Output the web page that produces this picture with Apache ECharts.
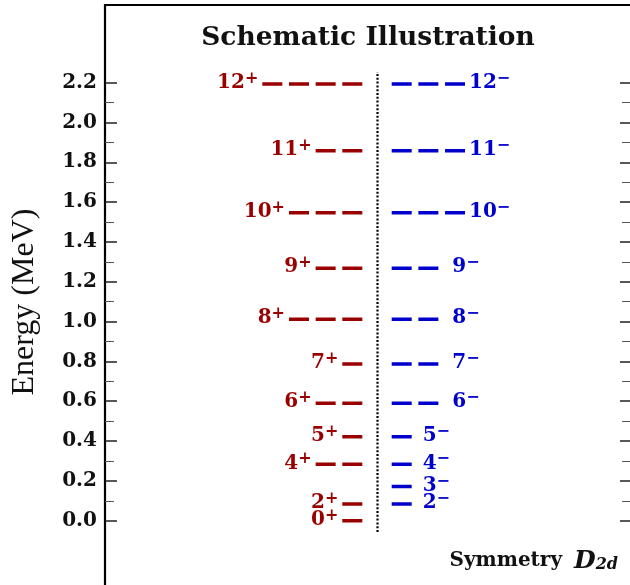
<!DOCTYPE html>
<html>
<head>
<meta charset="utf-8">
<script src="https://cdn.jsdelivr.net/npm/echarts@6/dist/echarts.min.js"></script>
<style>
html,body{margin:0;padding:0;background:#fff;overflow:hidden;width:630px;height:585px;}
#chart{width:634px;height:601px;}
</style>
</head>
<body>
<div id="chart"></div>
<script>
// ---- data ----
const spinsPlus   = [0, 2, 4, 5, 6, 7, 8, 9, 10, 11, 12];
const energyPlus  = [0.000, 0.084, 0.283, 0.422, 0.590, 0.787, 1.012, 1.268, 1.547, 1.858, 2.193];
const dashesPlus  = [1, 1, 2, 1, 2, 1, 3, 2, 3, 2, 4];      // level-line length (dash units)
const spinsMinus  = [2, 3, 4, 5, 6, 7, 8, 9, 10, 11, 12];
const energyMinus = [0.084, 0.171, 0.283, 0.422, 0.590, 0.787, 1.012, 1.268, 1.547, 1.858, 2.193];
const dashesMinus = [1, 1, 1, 1, 2, 2, 2, 2, 3, 3, 3];
const majorTicks  = [0.0, 0.2, 0.4, 0.6, 0.8, 1.0, 1.2, 1.4, 1.6, 1.8, 2.0, 2.2];
const minorTicks  = [0.1, 0.3, 0.5, 0.7, 0.9, 1.1, 1.3, 1.5, 1.7, 1.9, 2.1];
const separatorRange = [-0.057, 2.254];
const titleText = 'Schematic Illustration';
const yTitle = 'Energy (MeV)';

// ---- layout / style ----
const plusColor = '#990000';
const minusColor = '#0000cc';
const plusEnd = -0.57;     // x (dash units) where positive-parity lines end
const minusStart = 0.532;  // x where negative-parity lines start
const dashLen = 0.75;      // fraction of a dash period that is drawn
const minusLabelGap = {1: 11, 2: 14, 3: 4};
const serifBold = {fontFamily: 'DejaVu Serif', fontWeight: 'bold'};

const levelRich = (color) => ({
  n: {fontFamily: 'DejaVu Serif', fontWeight: 'bold', fontSize: 20, color: color, lineHeight: 24, opacity: 1},
  s: {fontFamily: 'DejaVu Serif', fontWeight: 'bold', fontSize: 16, color: color, lineHeight: 12, verticalAlign: 'top', opacity: 1}
});

const series = [];
const lineStyleFor = (color) => ({color: color, width: 3.5, type: [20, 6.667], cap: 'butt', opacity: 1});

spinsPlus.forEach((s, i) => {
  const x0 = plusEnd - dashesPlus[i] + (1 - dashLen);
  series.push({
    type: 'line', data: [[x0, energyPlus[i]], [plusEnd, energyPlus[i]]],
    symbol: 'none', silent: true, lineStyle: lineStyleFor(plusColor), z: 3
  });
});
spinsMinus.forEach((s, i) => {
  const x1 = minusStart + dashesMinus[i] - (1 - dashLen);
  series.push({
    type: 'line', data: [[minusStart, energyMinus[i]], [x1, energyMinus[i]]],
    symbol: 'none', silent: true, lineStyle: lineStyleFor(minusColor), z: 3
  });
});

// separator
series.push({
  type: 'line', data: [[0, separatorRange[0]], [0, separatorRange[1]]],
  symbol: 'none', silent: true,
  lineStyle: {color: '#000', width: 2.2, type: [2, 1.8]}, z: 2
});

// labels
series.push({
  type: 'scatter', symbolSize: 0, silent: true, z: 4,
  itemStyle: {color: plusColor, opacity: 1},
  data: spinsPlus.map((s, i) => ({
    value: [plusEnd - dashesPlus[i] + (1 - dashLen), energyPlus[i], s]
  })),
  label: {
    show: true, position: 'left', distance: 4, offset: [0, -1],
    color: plusColor, fontFamily: 'DejaVu Serif', fontWeight: 'bold', opacity: 1,
    formatter: (p) => '{n|' + p.value[2] + '}{s|+}',
    rich: levelRich(plusColor)
  }
});
series.push({
  type: 'scatter', symbolSize: 0, silent: true, z: 4,
  itemStyle: {color: minusColor, opacity: 1},
  data: spinsMinus.map((s, i) => ({
    value: [minusStart + dashesMinus[i] - (1 - dashLen), energyMinus[i], s],
    label: {distance: minusLabelGap[dashesMinus[i]]}
  })),
  label: {
    show: true, position: 'right', offset: [0, -1],
    color: minusColor, fontFamily: 'DejaVu Serif', fontWeight: 'bold', opacity: 1,
    formatter: (p) => '{n|' + p.value[2] + '}{s|\u2212}',
    rich: levelRich(minusColor)
  }
});

const yBase = {
  type: 'value', min: -0.4, max: 2.59,
  axisLine: {show: false, onZero: false},
  splitLine: {show: false}
};

const option = {
  animation: false,
  backgroundColor: '#fff',
  grid: {left: 105, right: 2, top: 5, height: 595.3, show: true,
         borderColor: '#000', borderWidth: 2.2, backgroundColor: 'transparent'},
  title: {
    text: titleText, left: 363, top: 20, textAlign: 'center',
    textStyle: Object.assign({fontSize: 26.5, color: '#111'}, serifBold)
  },
  xAxis: {type: 'value', min: -10.22, max: 9.544, show: false, axisLine: {onZero: false}},
  yAxis: [
    Object.assign({}, yBase, {
      position: 'left',
      axisTick: {show: true, inside: true, length: 12, customValues: majorTicks,
                 lineStyle: {color: '#222', width: 1.5}},
      axisLabel: {show: true, customValues: majorTicks, margin: 8,
                  formatter: (v) => v.toFixed(1),
                  fontFamily: 'DejaVu Serif', fontWeight: 'bold', fontSize: 20, color: '#111'}
    }),
    Object.assign({}, yBase, {
      position: 'right',
      axisTick: {show: true, inside: true, length: 12, customValues: majorTicks,
                 lineStyle: {color: '#222', width: 1.5}},
      axisLabel: {show: false}
    }),
    Object.assign({}, yBase, {
      position: 'left',
      axisTick: {show: true, inside: true, length: 9, customValues: minorTicks,
                 lineStyle: {color: '#555', width: 1}},
      axisLabel: {show: false}
    }),
    Object.assign({}, yBase, {
      position: 'right',
      axisTick: {show: true, inside: true, length: 10, customValues: minorTicks,
                 lineStyle: {color: '#555', width: 1}},
      axisLabel: {show: false}
    })
  ],
  graphic: [
    {
      type: 'text', x: 25, y: 302, rotation: Math.PI / 2, silent: true,
      style: {text: yTitle, fontFamily: 'Liberation Serif', fontSize: 32, fill: '#111',
              align: 'center', verticalAlign: 'middle'}
    },
    {
      type: 'text', x: 618, y: 561, silent: true,
      style: {
        text: '{a|Symmetry}{g| }{b|D}{c|2d}', align: 'right', verticalAlign: 'middle',
        rich: {
          a: {fontFamily: 'DejaVu Serif', fontWeight: 'bold', fontSize: 20, fill: '#111', lineHeight: 24},
          g: {fontSize: 10, width: 12, lineHeight: 24},
          b: {fontFamily: 'DejaVu Serif', fontWeight: 'bold', fontStyle: 'italic', fontSize: 25, fill: '#111', lineHeight: 24},
          c: {fontFamily: 'DejaVu Serif', fontWeight: 'bold', fontStyle: 'italic', fontSize: 16, fill: '#111', lineHeight: 14, verticalAlign: 'bottom'}
        }
      }
    }
  ],
  series: series
};

option.series.forEach(s => { s.xAxisIndex = 0; s.yAxisIndex = 0; });

const chart = echarts.init(document.getElementById('chart'), null, {renderer: 'canvas'});
chart.setOption(option);
</script>
</body>
</html>
